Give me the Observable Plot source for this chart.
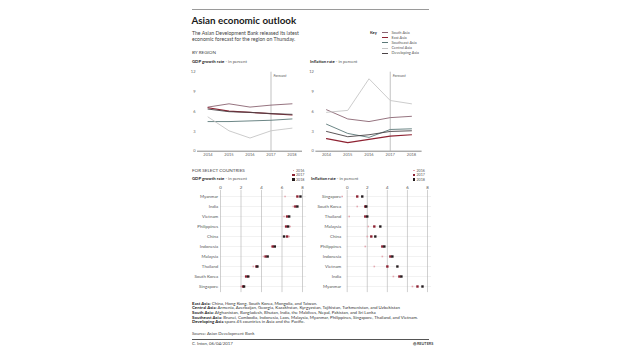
<!DOCTYPE html>
<html><head><meta charset="utf-8">
<script src="https://cdn.jsdelivr.net/npm/d3@7"></script>
<script src="https://cdn.jsdelivr.net/npm/@observablehq/plot@0.6"></script>
<style>
body{margin:0;background:#fff;}
#root{position:relative;width:620px;height:355px;overflow:hidden;font-family:Lato,"Open Sans",sans-serif;color:#333;background:#fff;}
.t{position:absolute;white-space:nowrap;}
.chart{position:absolute;}
.chart svg{overflow:visible;}
</style></head><body><div id="root"></div>
<script>
// ---------- DATA ----------
const years = [2014, 2015, 2016, 2017, 2018];
const forecastYear = 2017;
const regions = ["South Asia", "East Asia", "Southeast Asia", "Central Asia", "Developing Asia"];

const gdpSouthAsia      = [6.7, 7.2, 6.7, 7.0, 7.2];
const gdpEastAsia       = [6.6, 6.1, 5.9, 5.7, 5.5];
const gdpSoutheastAsia  = [4.5, 4.5, 4.6, 4.7, 4.9];
const gdpCentralAsia    = [5.2, 3.1, 2.0, 3.1, 3.5];
const gdpDevelopingAsia = [6.4, 6.0, 5.9, 5.7, 5.6];

const infSouthAsia      = [6.3, 4.9, 4.5, 5.1, 5.3];
const infEastAsia       = [1.9, 1.3, 1.8, 2.3, 2.5];
const infSoutheastAsia  = [4.1, 2.7, 2.1, 3.3, 3.4];
const infCentralAsia    = [5.9, 6.2, 11.0, 7.7, 7.2];
const infDevelopingAsia = [3.0, 2.2, 2.5, 3.0, 3.1];

const lineTicks = [0, 3, 6, 9, 12];

const dotYears = ["2016", "2017", "2018"];
const gdpCountries = ["Myanmar", "India", "Vietnam", "Philippines", "China", "Indonesia", "Malaysia", "Thailand", "South Korea", "Singapore"];
const gdp2016 = [6.3, 7.1, 6.2, 6.8, 6.7, 5.0, 4.2, 3.2, 2.8, 2.0];
const gdp2017 = [7.5, 7.3, 6.5, 6.4, 6.5, 5.1, 4.4, 3.5, 2.5, 2.2];
const gdp2018 = [7.8, 7.5, 6.7, 6.6, 6.2, 5.3, 4.6, 3.6, 2.7, 2.3];

const infCountries = ["Singapore", "South Korea", "Thailand", "Malaysia", "China", "Philippines", "Indonesia", "Vietnam", "India", "Myanmar"];
const inf2016 = [-0.5, 1.0, 0.2, 2.1, 2.0, 1.8, 3.5, 2.7, 4.6, 6.5];
const inf2017 = [1.0, 1.8, 1.8, 2.7, 2.4, 3.5, 4.3, 4.0, 5.2, 7.0];
const inf2018 = [1.5, 1.9, 2.0, 3.3, 2.8, 3.7, 4.5, 5.0, 5.4, 7.5];
const dotTicks = [0, 2, 4, 6, 8];

const footnoteHeads = ["East Asia:", "Central Asia:", "South Asia:", "Southeast Asia:", "Developing Asia"];
const footnoteBodies = [
  " China, Hong Kong, South Korea, Mongolia, and Taiwan.",
  " Armenia, Azerbaijan, Georgia, Kazakhstan, Kyrgyzstan, Tajikistan, Turkmenistan, and Uzbekistan",
  " Afghanistan, Bangladesh, Bhutan, India, the Maldives, Nepal, Pakistan, and Sri Lanka",
  " Brunei, Cambodia, Indonesia, Laos, Malaysia, Myanmar, Philippines, Singapore, Thailand, and Vietnam.",
  " spans 45 countries in Asia and the Pacific."
];

// ---------- STYLE ----------
const regionColors = ["#8a6472", "#8e2232", "#5b7878", "#c6c6c6", "#4a4346"];
const regionWidths = [0.9, 1.2, 0.9, 0.9, 0.9];
const dotColors = ["#e4a8b0", "#8e2232", "#231a1d"];
const dotR = [0.9, 1.35, 1.35];

const root = document.getElementById("root");
function text(html, left, cy, size, opts = {}) {
  const d = document.createElement("div");
  d.className = "t";
  d.innerHTML = html;
  d.style.left = left + "px";
  d.style.top = (cy - size / 2) + "px";
  d.style.fontSize = size + "px";
  d.style.lineHeight = size + "px";
  if (opts.bold) d.style.fontWeight = "700";
  if (opts.color) d.style.color = opts.color;
  if (opts.italic) d.style.fontStyle = "italic";
  root.appendChild(d);
  return d;
}
function box(left, top, w, h, color) {
  const d = document.createElement("div");
  d.style.cssText = `position:absolute;left:${left}px;top:${top}px;width:${w}px;height:${h}px;background:${color}`;
  root.appendChild(d);
}
function place(svg, left, top) {
  const d = document.createElement("div");
  d.className = "chart";
  d.style.left = left + "px";
  d.style.top = top + "px";
  d.appendChild(svg);
  root.appendChild(d);
}

// ---------- HEADER ----------
box(192, 9, 237, 1, "#9a9a9a");
text("Asian economic outlook", 191.5, 21, 9.8, {bold: true, color: "#1a1a1a"});
text("The Asian Development Bank released its latest", 192, 33.3, 5.15, {color: "#444"});
text("economic forecast for the region on Thursday.", 192, 39.3, 5.15, {color: "#444"});
text("BY REGION", 192, 52.7, 4.6, {color: "#444"});
text("<b style='color:#1a1a1a'>GDP growth rate</b> - in percent", 192, 61.7, 4.3, {color: "#555"});
text("<b style='color:#1a1a1a'>Inflation rate</b> - in percent", 310, 61.7, 4.3, {color: "#555"});

// key
text("Key", 370, 32.5, 4, {bold: true, color: "#1a1a1a"});
regions.forEach((r, i) => {
  const cy = 32.5 + i * 5.2;
  const w = i === 1 ? 1.4 : 1;
  box(382, cy - w / 2, 5.5, w, regionColors[i]);
  text(r, 391.5, cy, 3.9, {color: "#555"});
});

// ---------- LINE CHARTS ----------
function lineChart(series, left, marginLeft, marginRight) {
  const table = [];
  regions.forEach((r, i) => series[i].forEach((v, j) => table.push({region: r, year: years[j], value: v})));
  const svg = Plot.plot({
    width: 135, height: 100,
    marginLeft, marginRight, marginTop: 7.7, marginBottom: 13.3,
    style: {background: "transparent", fontFamily: "Lato", fontSize: "4px", color: "#666"},
    x: {domain: [2013.5, 2018.5], label: null},
    y: {domain: [0, 12], label: null},
    marks: [
      Plot.ruleX([forecastYear], {x: d => d, y1: 0, y2: 12, stroke: "#a8a8a8", strokeWidth: 0.7}),
      Plot.text([forecastYear], {x: d => d, y: 12, text: () => "Forecast", dx: 2.5, dy: 4, textAnchor: "start", fontStyle: "italic", fill: "#555", fontSize: 3.7}),
      Plot.ruleY([0], {stroke: "#555", strokeWidth: 0.7}),
      ...regions.map((r, i) => Plot.line(table.filter(d => d.region === r), {x: "year", y: "value", stroke: regionColors[i], strokeWidth: regionWidths[i]})),
      Plot.axisX({ticks: years, tickFormat: d => String(d), tickSize: 0, tickPadding: 2.2, label: null}),
      Plot.axisY({ticks: lineTicks, tickSize: 0, tickPadding: 2, label: null})
    ]
  });
  place(svg, left, 64);
}
lineChart([gdpSouthAsia, gdpEastAsia, gdpSoutheastAsia, gdpCentralAsia, gdpDevelopingAsia], 170, 27, 3);
lineChart([infSouthAsia, infEastAsia, infSoutheastAsia, infCentralAsia, infDevelopingAsia], 300, 15.4, 13.4);

// ---------- SELECT COUNTRIES ----------
text("FOR SELECT COUNTRIES", 192, 170.7, 4.6, {color: "#444"});
text("<b style='color:#1a1a1a'>GDP growth rate</b> - in percent", 192, 179.2, 4.3, {color: "#555"});
text("<b style='color:#1a1a1a'>Inflation rate</b> - in percent", 311, 179.2, 4.3, {color: "#555"});

function legend(left) {
  dotYears.forEach((y, i) => {
    const cy = 170.5 + i * 4.5;
    const s = i === 0 ? 1.6 : 2.3;
    box(left - s / 2, cy - s / 2, s, s, dotColors[i]);
    text(y, left + 2.5, cy, 3.6, {color: "#555"});
  });
}
legend(293.5);
legend(414);

function dotChart(countries, v16, v17, v18, left, marginLeft, marginRight, labelPad) {
  const rows = [];
  countries.forEach((c, i) => {
    rows.push({country: c, year: "2016", value: v16[i]});
    rows.push({country: c, year: "2017", value: v17[i]});
    rows.push({country: c, year: "2018", value: v18[i]});
  });
  const svg = Plot.plot({
    width: 140, height: 115,
    marginLeft, marginRight, marginTop: 9.9, marginBottom: 2.9,
    style: {background: "transparent", fontFamily: "Lato", fontSize: "4.4px", color: "#555"},
    x: {domain: [0, 8], label: null},
    y: {type: "point", domain: countries, padding: 0.5, label: null},
    marks: [
      Plot.ruleY(countries, {y: d => d, x1: 0, x2: 8.4, stroke: "#e4e4e4", strokeWidth: 0.5}),
      Plot.ruleX(dotTicks, {stroke: "#b0b0b0", strokeWidth: 0.6}),
      ...dotYears.map((yr, i) => Plot.dot(rows.filter(d => d.year === yr), {x: "value", y: "country", symbol: "square", r: dotR[i], fill: dotColors[i], stroke: "none"})),
      Plot.axisX({anchor: "top", ticks: dotTicks, tickSize: 0, tickPadding: 1.2, label: null}),
      Plot.axisY({tickSize: 0, tickPadding: labelPad, label: null})
    ]
  });
  place(svg, left, 180);
}
dotChart(gdpCountries, gdp2016, gdp2017, gdp2018, 170, 50, 8, 2.3);
dotChart(infCountries, inf2016, inf2017, inf2018, 300, 46.7, 13, 6);

// ---------- FOOTNOTES ----------
footnoteHeads.forEach((h, i) => {
  text(`<b style="color:#1a1a1a">${h}</b>${footnoteBodies[i]}`, 192, 304 + i * 4.6, 4.4, {color: "#333"});
});
text("Source: Asian Development Bank", 192, 334, 4.3, {color: "#444"});
box(192, 339, 237, 0.8, "#555");
text("C. Inton, 06/04/2017", 192, 344, 4.3, {color: "#444"});
text("&#x25CE; REUTERS", 413, 344, 3.8, {bold: true, color: "#444"});
</script></body></html>
